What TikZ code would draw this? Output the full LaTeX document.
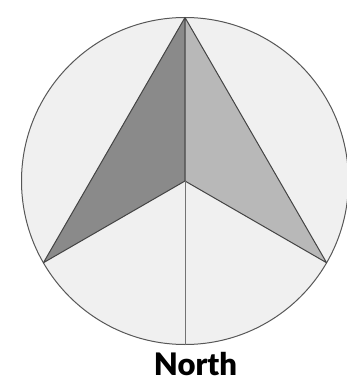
\documentclass[tikz,border=0pt]{standalone}
\usepackage{fontspec}
\usetikzlibrary{calc}
\newfontfamily\labelfont{Lato Black}
\definecolor{bgfill}{HTML}{F0F0F0}
\definecolor{darkside}{HTML}{8A8A8A}
\definecolor{lightside}{HTML}{B8B8B8}
\definecolor{edge}{HTML}{444444}
\begin{document}
\begin{tikzpicture}[x=1pt,y=-1pt,
  rim/.style={draw=edge!90!white,line width=1pt,fill=bgfill},
  facet/.style={draw=edge,line width=1pt,line join=round},
  label/.style={font=\labelfont\fontsize{31}{31}\selectfont,text=black,inner sep=0pt,anchor=base}]
\useasboundingbox (0,0) rectangle (347,385);
\coordinate (c) at (185,181);
\draw[rim] (c) circle (163.5);
\coordinate (tip) at ($(c)+(0,-163.5)$);
\coordinate (lft) at ($(c)+(-141.6,81.75)$);
\coordinate (rgt) at ($(c)+(141.6,81.75)$);
\coordinate (bot) at ($(c)+(0,163.5)$);
\filldraw[facet,fill=darkside] (tip) -- (lft) -- (c) -- cycle;
\filldraw[facet,fill=lightside] (tip) -- (rgt) -- (c) -- cycle;
\draw[draw=gray!90!black,line width=1pt] (c) -- (bot);
\node[label] (north) at (195.5,375) {North};
\end{tikzpicture}
\end{document}
